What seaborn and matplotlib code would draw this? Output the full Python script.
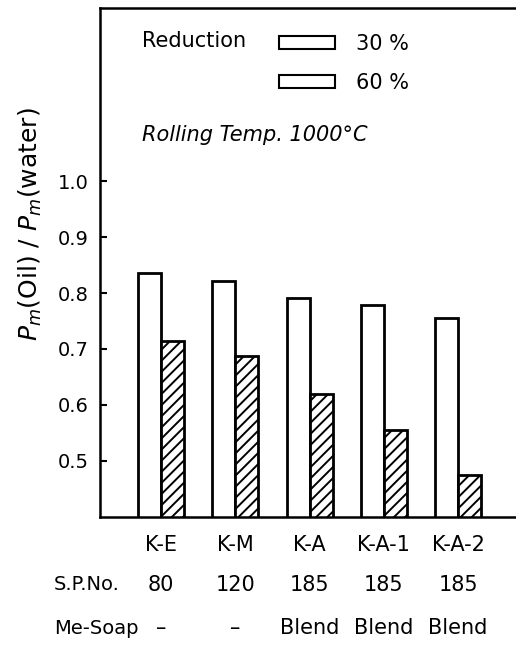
import pandas as pd
import numpy as np
import matplotlib.pyplot as plt
import seaborn as sns
from matplotlib.patches import Patch

sns.set_style("ticks", {'text.color': 'black', 'axes.labelcolor': 'black',
                        'xtick.color': 'black', 'ytick.color': 'black',
                        'axes.edgecolor': 'black'})
plt.rcParams['font.family'] = ['DejaVu Sans']
plt.rcParams['hatch.linewidth'] = 1.4

# values
samples = ['K-E', 'K-M', 'K-A', 'K-A-1', 'K-A-2']
sp_no = ['80', '120', '185', '185', '185']
me_soap = ['–', '–', 'Blend', 'Blend', 'Blend']
ratio_30 = [0.836, 0.821, 0.792, 0.779, 0.755]
ratio_60 = [0.715, 0.688, 0.619, 0.556, 0.474]
reductions = ['30 %', '60 %']

df = pd.DataFrame({
    'sample': samples * 2,
    'reduction': [reductions[0]] * 5 + [reductions[1]] * 5,
    'ratio': ratio_30 + ratio_60,
})

fig = plt.figure(figsize=(5.16, 6.46), dpi=100)
ax = fig.add_axes([0.194, 0.2, 0.806, 0.788])

sns.barplot(data=df, x='sample', y='ratio', hue='reduction', order=samples,
            hue_order=reductions, palette=['white', 'white'], width=0.62,
            edgecolor='black', linewidth=2, saturation=1, legend=False, ax=ax)

# hatch the 60 % bars
for bar in ax.containers[1]:
    bar.set_hatch('///')

ax.set_ylim(0.4, 1.31)
ax.set_xlim(-0.82, 4.78)
ax.set_yticks([0.5, 0.6, 0.7, 0.8, 0.9, 1.0])
ax.set_yticklabels(['0.5', '0.6', '0.7', '0.8', '0.9', '1.0'], fontsize=14)
ax.tick_params(axis='y', direction='in', length=5, width=1.5, pad=8)
ax.tick_params(axis='x', length=0, pad=13, labelsize=15)
ax.set_xlabel('')
ax.set_ylabel(r'$P_m$(Oil) / $P_m$(water)', fontsize=18)
ax.yaxis.set_label_coords(-0.135, 0.575)

ax.spines['right'].set_visible(False)
for s in ['left', 'bottom', 'top']:
    ax.spines[s].set_linewidth(1.8)

# extra table rows under the categories
fig.text(0.105, 1 - 585 / 646, 'S.P.No.', fontsize=14, va='center', ha='left')
fig.text(0.105, 1 - 628 / 646, 'Me-Soap', fontsize=14, va='center', ha='left')
for i, (sp, ms) in enumerate(zip(sp_no, me_soap)):
    ax.text(i, -0.134, sp, fontsize=15, ha='center', va='center',
            transform=ax.get_xaxis_transform())
    ax.text(i, -0.218, ms, fontsize=15, ha='center', va='center',
            transform=ax.get_xaxis_transform())

# legend
ax.text(0.1, 0.935, 'Reduction', fontsize=15, transform=ax.transAxes, va='center')
handles = [Patch(facecolor='white', edgecolor='black', linewidth=1.5),
           Patch(facecolor='white', edgecolor='black', linewidth=1.5)]
ax.legend(handles, reductions, loc='upper left', bbox_to_anchor=(0.385, 0.985),
          frameon=False, fontsize=15, handlelength=2.7, handleheight=0.6,
          labelspacing=0.9, handletextpad=1.0)
ax.text(0.1, 0.75, 'Rolling Temp. 1000°C', fontsize=15, style='italic',
        transform=ax.transAxes, va='center')

fig.savefig('out.png', dpi=100)
